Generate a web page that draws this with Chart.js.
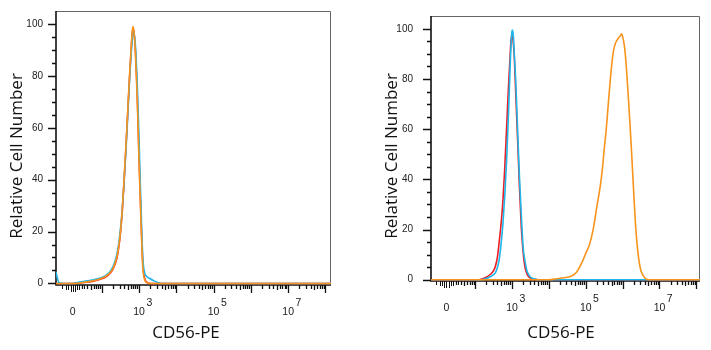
<!DOCTYPE html>
<html>
<head>
<meta charset="utf-8">
<script src="https://cdn.jsdelivr.net/npm/chart.js@4.4.1/dist/chart.umd.min.js"></script>
<style>
  body { margin: 0; background: #fff; width: 711px; height: 350px; position: relative; overflow: hidden; }
  .panel { position: absolute; top: 0; }
  #left { left: 0; }
  #right { left: 355px; }
</style>
</head>
<body>
<div class="panel" id="left"><canvas id="leftChart" width="355" height="350"></canvas></div>
<div class="panel" id="right"><canvas id="rightChart" width="356" height="350"></canvas></div>
<script>
// x values are positions on the biexponential axis, in decades (3 = 10^3)
const leftX      = [0.77, 0.8, 0.85, 1.0, 1.2, 1.4, 1.6, 1.8, 2.0, 2.1, 2.2, 2.3, 2.4, 2.45, 2.5, 2.55, 2.6, 2.65, 2.7, 2.75, 2.8, 2.83, 2.86, 2.9, 2.95, 3.0, 3.05, 3.1, 3.15, 3.2, 3.3, 3.4, 3.5, 3.6, 8.15];
const leftRed    = [0, 0, 0, 0, 0, 0.2, 0.5, 1.0, 1.8, 2.5, 3.6, 5.5, 9.5, 13.5, 19.5, 28, 40, 53, 67, 81, 93, 98, 97, 90, 73, 48, 26, 7.5, 2, 0.5, 0, 0, 0, 0, 0];
const leftCyan   = [4.5, 2.5, 0.3, 0, 0, 0.5, 1.0, 1.5, 2.3, 3.0, 4.2, 6.5, 11, 15, 21, 29, 40, 52, 66, 80, 91, 95.5, 97, 92, 77, 55, 30, 10, 4, 2.8, 1.8, 1.0, 0.4, 0, 0];
const leftOrange = [0, 0, 0, 0, 0, 0.2, 0.6, 1.1, 2.0, 2.7, 3.8, 5.8, 10, 14, 20, 29, 41, 54, 68, 82, 94, 99, 97.5, 89, 71, 46, 24, 6, 1.5, 0.3, 0, 0, 0, 0, 0];

const rightPeakX = [0.8, 2.1, 2.2, 2.3, 2.4, 2.5, 2.55, 2.6, 2.65, 2.7, 2.75, 2.8, 2.85, 2.9, 2.95, 2.98, 3.0, 3.03, 3.06, 3.1, 3.15, 3.2, 3.25, 3.3, 3.35, 3.4, 3.45, 3.5, 3.6, 3.7, 8.1];
const rightRed   = [0, 0, 0.4, 1.0, 2.0, 3.6, 5.5, 8.8, 15, 22, 31, 44, 60, 76, 90, 97, 97, 95, 89, 74, 56, 37, 21, 11, 5, 2.5, 1.2, 0.7, 0.2, 0, 0];
const rightCyan  = [0, 0, 0.1, 0.5, 1.1, 2, 2.8, 4.8, 8, 14, 22, 33, 47, 65, 86, 96, 99.5, 98, 90, 79, 60, 41, 26, 13, 7.5, 3.7, 2, 1, 0.4, 0, 0];
const rightOrangeX = [0.8, 4.0, 4.2, 4.4, 4.6, 4.75, 4.9, 5.0, 5.1, 5.2, 5.3, 5.4, 5.45, 5.5, 5.55, 5.6, 5.65, 5.7, 5.75, 5.8, 5.85, 5.9, 5.95, 5.97, 6.0, 6.05, 6.1, 6.15, 6.2, 6.25, 6.3, 6.35, 6.4, 6.45, 6.5, 6.6, 6.7, 8.1];
const rightOrange  = [0, 0, 0.4, 0.8, 1.4, 3, 7, 10.5, 14, 20, 29, 38, 44, 52, 59, 68, 77, 85, 91, 94, 95.5, 96.5, 97.5, 98, 97, 93, 85, 74, 62, 49, 35, 22, 13, 7, 3.5, 0.8, 0, 0];

const yTicks = [0, 20, 40, 60, 80, 100];
const zeroPos = 1.22;
const xTickValues = [zeroPos, 3, 5, 7];
const xTickText = ['0', '10', '10', '10'];
const xTickExp = ['', '3', '5', '7'];

const RED = '#ec1c24', CYAN = '#1fb6e9', ORANGE = '#f7941d';

const pts = (xs, ys) => xs.map((x, i) => ({ x: x, y: ys[i] }));

// frame, tick marks, x labels and titles of a flow histogram
const flowAxes = {
  id: 'flowAxes',
  beforeDatasetsDraw(chart, args, o) {
    const { ctx, chartArea: a, scales: { x, y } } = chart;
    ctx.save();
    ctx.strokeStyle = '#666';
    ctx.lineWidth = 1;
    ctx.beginPath();
    ctx.moveTo(a.left, a.top + 0.5);
    ctx.lineTo(a.right - 0.5, a.top + 0.5);
    ctx.lineTo(a.right - 0.5, a.bottom);
    ctx.stroke();

    ctx.strokeStyle = '#111';
    ctx.lineWidth = 1.6;
    ctx.beginPath();
    ctx.moveTo(a.left, a.top);
    ctx.lineTo(a.left, a.bottom);
    ctx.lineTo(a.right, a.bottom);
    ctx.stroke();

    // y tick marks
    ctx.lineWidth = 1.5;
    for (let v = 0; v <= 100; v += 5) {
      const py = Math.round(y.getPixelForValue(v)) + 0.5;
      const len = v % 20 === 0 ? 8 : 4;
      ctx.beginPath();
      ctx.moveTo(a.left - len, py);
      ctx.lineTo(a.left, py);
      ctx.stroke();
    }

    // x tick marks
    const xt = (u, len) => {
      if (u < x.min || u > x.max) return;
      const px = Math.round(x.getPixelForValue(u)) + 0.5;
      ctx.beginPath();
      ctx.moveTo(px, a.bottom);
      ctx.lineTo(px, a.bottom + len);
      ctx.stroke();
    };
    ctx.lineWidth = 1.3;
    for (let d = 1; d <= 8; d++) {
      if (d >= 2) xt(d, 8);
      for (let k = 2; k <= 9; k++) {
        const u = d + Math.log10(k);
        if (u > zeroPos + 0.2) xt(u, k === 5 ? 5 : 4);
      }
    }
    ctx.lineWidth = 1;
    for (let i = -3; i <= 3; i++) xt(zeroPos + i * 0.06, Math.abs(i) < 2 ? 7 : 5);
    xt(zeroPos - 0.28, 4);
    xt(zeroPos + 0.3, 4);

    // x tick labels with exponents
    ctx.fillStyle = '#1a1a1a';
    ctx.font = '10.5px "Liberation Sans", Arial, sans-serif';
    ctx.textBaseline = 'middle';
    xTickValues.forEach((u, i) => {
      const px = x.getPixelForValue(u);
      const ly = a.bottom + 27;
      ctx.textAlign = 'center';
      ctx.fillText(xTickText[i], px, ly);
      if (xTickExp[i]) {
        const w = ctx.measureText(xTickText[i]).width;
        ctx.textAlign = 'left';
        ctx.fillText(xTickExp[i], px + w / 2 + 1.5, ly - 8.5);
      }
    });

    // axis titles
    ctx.fillStyle = '#111';
    ctx.font = '17px "Open Sans", sans-serif';
    ctx.textAlign = 'center';
    ctx.fillText('CD56-PE', o.xTitleX, 333);
    ctx.translate(o.yTitleX, 156);
    ctx.rotate(-Math.PI / 2);
    ctx.fillText('Relative Cell Number', 0, 0);
    ctx.restore();
  }
};

function histogram(id, g, datasets) {
  return new Chart(document.getElementById(id), {
    type: 'line',
    data: {
      datasets: datasets.map(d => ({
        data: d.data,
        borderColor: d.color,
        borderWidth: 1.6,
        pointRadius: 0,
        fill: false,
        cubicInterpolationMode: 'monotone'
      }))
    },
    options: {
      responsive: false,
      animation: false,
      layout: { padding: { top: g.top, right: g.right, left: 0, bottom: 0 } },
      plugins: {
        legend: { display: false },
        tooltip: { enabled: false },
        flowAxes: { xTitleX: g.xTitleX, yTitleX: g.yTitleX }
      },
      scales: {
        x: {
          type: 'linear',
          min: g.xMin,
          max: g.xMax,
          grid: { display: false },
          border: { display: false },
          ticks: { display: false },
          afterFit: s => { s.height = g.xHeight; }
        },
        y: {
          min: g.yMin,
          max: g.yMax,
          grid: { display: false, tickLength: 8 },
          border: { display: false },
          ticks: {
            color: '#222',
            padding: g.labelPad,
            font: { family: '"Liberation Sans", Arial, sans-serif', size: 10 }
          },
          afterBuildTicks: s => { s.ticks = yTicks.map(v => ({ value: v })); },
          afterFit: s => { s.width = g.yWidth; }
        }
      }
    },
    plugins: [flowAxes]
  });
}

histogram('leftChart',
  { top: 10, right: 24, yWidth: 56, xHeight: 65, xMin: 0.77, xMax: 8.15, yMin: -0.6, yMax: 105,
    labelPad: 5, xTitleX: 186, yTitleX: 17 },
  [
    { data: pts(leftX, leftOrange), color: ORANGE },
    { data: pts(leftX, leftCyan), color: CYAN },
    { data: pts(leftX, leftRed), color: RED }
  ]);

histogram('rightChart',
  { top: 13, right: 11, yWidth: 76, xHeight: 69, xMin: 0.8, xMax: 8.1, yMin: -0.5, yMax: 105.1,
    labelPad: 10, xTitleX: 206, yTitleX: 37 },
  [
    { data: pts(rightOrangeX, rightOrange), color: ORANGE },
    { data: pts(rightPeakX, rightCyan), color: CYAN },
    { data: pts(rightPeakX, rightRed), color: RED }
  ]);
</script>
</body>
</html>
